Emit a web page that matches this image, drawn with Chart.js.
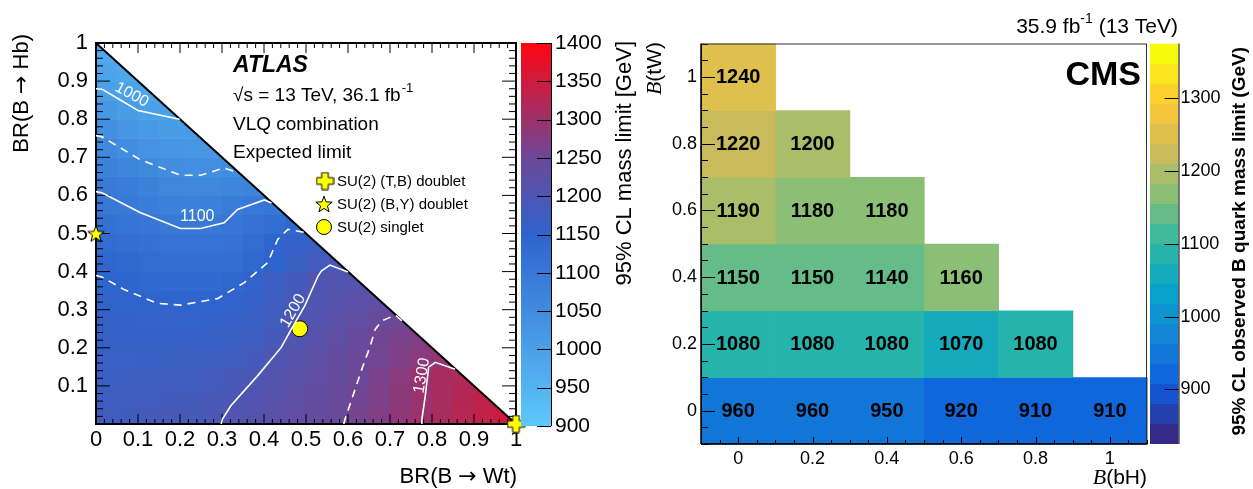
<!DOCTYPE html>
<html>
<head>
<meta charset="utf-8">
<title>B quark mass limits</title>
<script src="https://cdn.jsdelivr.net/npm/chart.js@4.4.1/dist/chart.umd.min.js"></script>
<style>
  html, body { margin: 0; padding: 0; background: #fff; }
  #wrap { position: relative; width: 1253px; height: 489px; overflow: hidden; }
  #wrap canvas { position: absolute; left: 0; top: 0; }
</style>
</head>
<body>
<div id="wrap">
  <canvas id="atlas" width="1253" height="489"></canvas>
  <canvas id="atlasBar" width="1253" height="489"></canvas>
  <canvas id="cms" width="1253" height="489"></canvas>
  <canvas id="cmsBar" width="1253" height="489"></canvas>
</div>
<script>
// ATLAS expected limit [GeV], one array per BR(B->Hb) row of 0.05 wide cells, BR(B->Wt) from 0 upwards
const atlasStep = 0.05;
const hb00 = [1179,1181,1184,1188,1191,1195,1203,1212,1220,1229,1238,1246,1258,1272,1286,1299,1312,1325,1338,1350];
const hb05 = [1175,1176,1179,1181,1185,1188,1195,1206,1215,1225,1234,1243,1254,1268,1283,1297,1311,1323,1334];
const hb10 = [1170,1172,1174,1176,1179,1183,1188,1197,1209,1219,1229,1239,1250,1265,1280,1296,1310,1320];
const hb15 = [1166,1166,1167,1168,1170,1172,1176,1184,1201,1212,1223,1235,1246,1257,1269,1280,1290];
const hb20 = [1163,1162,1161,1162,1163,1165,1169,1175,1188,1205,1218,1230,1242,1254,1264,1272];
const hb25 = [1159,1157,1155,1155,1155,1157,1161,1167,1178,1198,1211,1222,1233,1245,1251];
const hb30 = [1155,1153,1151,1149,1148,1149,1154,1162,1174,1190,1204,1213,1221,1228];
const hb35 = [1150,1145,1139,1135,1134,1136,1142,1155,1170,1185,1200,1206,1210];
const hb40 = [1143,1137,1130,1125,1122,1122,1126,1137,1152,1168,1183,1194];
const hb45 = [1131,1125,1118,1112,1109,1109,1114,1130,1149,1160,1168];
const hb50 = [1118,1112,1105,1099,1097,1098,1104,1115,1128,1143];
const hb55 = [1103,1098,1088,1080,1078,1080,1088,1100,1106];
const hb60 = [1095,1087,1075,1064,1060,1061,1066,1072];
const hb65 = [1076,1068,1056,1047,1045,1046,1047];
const hb70 = [1060,1048,1036,1028,1025,1026];
const hb75 = [1041,1028,1018,1011,1008];
const hb80 = [1021,1010,1001,998];
const hb85 = [1003,994,989];
const hb90 = [989,983];
const hb95 = [977];
const atlasRows = [hb00, hb05, hb10, hb15, hb20, hb25, hb30, hb35, hb40, hb45,
                   hb50, hb55, hb60, hb65, hb70, hb75, hb80, hb85, hb90, hb95];

// contour lines [BR(Wt), BR(Hb)]
const contour1000 = [[0,0.88],[0.014,0.879],[0.10,0.823],[0.199,0.8]];
const contour1050 = [[0,0.757],[0.014,0.754],[0.105,0.694],[0.201,0.653],[0.249,0.653],[0.305,0.672],[0.34,0.659]];
const contour1100 = [[0,0.61],[0.014,0.607],[0.105,0.555],[0.201,0.513],[0.249,0.513],[0.305,0.528],[0.337,0.563],[0.401,0.588],[0.418,0.58]];
const contour1150 = [[0,0.39],[0.014,0.386],[0.065,0.354],[0.145,0.317],[0.201,0.312],[0.289,0.329],[0.353,0.371],[0.409,0.424],[0.433,0.485],[0.457,0.511],[0.496,0.503]];
const contour1200 = [[0.298,0],[0.301,0.013],[0.321,0.048],[0.385,0.127],[0.441,0.201],[0.465,0.249],[0.497,0.31],[0.529,0.389],[0.537,0.402],[0.557,0.417],[0.6,0.399]];
const contour1250 = [[0.59,0],[0.593,0.013],[0.609,0.065],[0.633,0.144],[0.653,0.205],[0.665,0.249],[0.681,0.271],[0.713,0.286],[0.736,0.263]];
const contour1300 = [[0.775,0],[0.776,0.013],[0.784,0.074],[0.792,0.149],[0.808,0.162],[0.855,0.144]];
// label text, position, angle
const contourTags = [['1000',0.085,0.864,0.49],['1100',0.241,0.545,0],['1200',0.469,0.297,-1.05],['1300',0.776,0.127,-1.4]];

// benchmark points
const tbDoublet = [1, 0];
const byDoublet = [0, 0.5];
const singlet = [0.485, 0.25];

const atlasWtTicks = [0,0.1,0.2,0.3,0.4,0.5,0.6,0.7,0.8,0.9,1];
const atlasHbTicks = [0.1,0.2,0.3,0.4,0.5,0.6,0.7,0.8,0.9,1];
const atlasBarTicks = [900,950,1000,1050,1100,1150,1200,1250,1300,1350,1400];

// CMS observed limit [GeV], one array per B(tW) row, B(bH) from 0 upwards
const cmsBH = [0,0.2,0.4,0.6,0.8,1];
const cmsTW = [0,0.2,0.4,0.6,0.8,1];
const cmsTW00 = [960,960,950,920,910,910];
const cmsTW02 = [1080,1080,1080,1070,1080];
const cmsTW04 = [1150,1150,1140,1160];
const cmsTW06 = [1190,1180,1180];
const cmsTW08 = [1220,1200];
const cmsTW10 = [1240];
const cmsRows = [cmsTW00, cmsTW02, cmsTW04, cmsTW06, cmsTW08, cmsTW10];
const cmsBarTicks = [900,1000,1100,1200,1300];
const cmsMin = 825, cmsMax = 1375, cmsBands = 20;

// STYLE
const FONT = "'Liberation Sans', Arial, Helvetica, sans-serif";
const SERIF = "'Liberation Serif', 'Times New Roman', serif";
const ARROW = "'DejaVu Sans', sans-serif";
Chart.defaults.font.family = FONT;
Chart.defaults.color = '#000';

const atlasStops = [[900,[94,200,250]],[1150,[46,100,205]],[1250,[108,72,152]],[1400,[255,5,15]]];
const birdStops = [[0,[53,42,135]],[0.125,[15,92,221]],[0.25,[20,129,214]],[0.375,[6,164,202]],
                   [0.5,[46,183,164]],[0.625,[135,191,119]],[0.75,[209,187,89]],[0.875,[254,200,50]],[1,[249,251,14]]];

function lerpStops(stops, v) {
  if (v <= stops[0][0]) return stops[0][1];
  for (let k = 1; k < stops.length; k++) {
    if (v <= stops[k][0]) {
      const [p0, c0] = stops[k - 1], [p1, c1] = stops[k];
      const t = (v - p0) / (p1 - p0);
      return c0.map((c, n) => Math.round(c + (c1[n] - c) * t));
    }
  }
  return stops[stops.length - 1][1];
}
const rgb = c => `rgb(${c[0]},${c[1]},${c[2]})`;
const atlasColor = v => rgb(lerpStops(atlasStops, v));
function cmsBand(v) {
  const k = Math.floor((v - cmsMin) / (cmsMax - cmsMin) * cmsBands);
  return Math.max(0, Math.min(cmsBands - 1, k));
}
const cmsColor = v => rgb(lerpStops(birdStops, cmsBand(v) / (cmsBands - 1)));
const fmtTick = v => String(Math.round(v * 100) / 100);

function text(ctx, s, x, y, font, align, base) {
  ctx.font = font;
  ctx.textAlign = align || 'left';
  ctx.textBaseline = base || 'alphabetic';
  ctx.fillText(s, x, y);
}
// several font runs on one line, anchored left or right, vertically centred
function runs(ctx, parts, x, y, anchor) {
  let total = 0;
  const widths = parts.map(([s, f]) => { ctx.font = f; const w = ctx.measureText(s).width; total += w; return w; });
  let cx = anchor === 'right' ? x - total : x;
  parts.forEach(([s, f], k) => { text(ctx, s, cx, y, f, 'left', 'middle'); cx += widths[k]; });
}
function vruns(ctx, parts, x, yTop) {
  ctx.save();
  ctx.translate(x, yTop);
  ctx.rotate(-Math.PI / 2);
  runs(ctx, parts, 0, 0, 'right');
  ctx.restore();
}

// yellow markers
function makeMarker(kind) {
  const size = kind === 'plus' ? 19 : 20;
  const c = document.createElement('canvas');
  c.width = c.height = size;
  const g = c.getContext('2d');
  const m = size / 2;
  g.beginPath();
  if (kind === 'plus') {
    const a = 3.3, e = 8.5;
    g.moveTo(m - a, m - e); g.lineTo(m + a, m - e); g.lineTo(m + a, m - a); g.lineTo(m + e, m - a);
    g.lineTo(m + e, m + a); g.lineTo(m + a, m + a); g.lineTo(m + a, m + e); g.lineTo(m - a, m + e);
    g.lineTo(m - a, m + a); g.lineTo(m - e, m + a); g.lineTo(m - e, m - a); g.lineTo(m - a, m - a);
  } else {
    for (let k = 0; k < 10; k++) {
      const r = k % 2 ? 3.6 : 8.6;
      const ang = -Math.PI / 2 + k * Math.PI / 5;
      const px = m + r * Math.cos(ang), py = m + 0.8 + r * Math.sin(ang);
      if (k) g.lineTo(px, py); else g.moveTo(px, py);
    }
  }
  g.closePath();
  g.fillStyle = '#ffff00';
  g.fill();
  g.strokeStyle = '#000';
  g.lineWidth = 1;
  g.stroke();
  return c;
}
const plusImg = makeMarker('plus');
const starImg = makeMarker('star');

// ATLAS PANEL
function contourSet(points, dashed) {
  return {
    data: points.map(p => ({ x: p[0], y: p[1] })),
    showLine: true, pointRadius: 0, borderColor: '#ffffff', borderWidth: 1.6,
    borderDash: dashed ? [8, 6] : [], tension: 0
  };
}

const atlasBackdrop = {
  id: 'atlasBackdrop',
  beforeDatasetsDraw(chart) {
    const { ctx, chartArea: a, scales: { x, y } } = chart;
    ctx.save();
    ctx.beginPath();
    ctx.moveTo(x.getPixelForValue(0), y.getPixelForValue(0));
    ctx.lineTo(x.getPixelForValue(1), y.getPixelForValue(0));
    ctx.lineTo(x.getPixelForValue(0), y.getPixelForValue(1));
    ctx.closePath();
    ctx.clip();
    atlasRows.forEach((row, j) => {
      const yb = y.getPixelForValue(j * atlasStep), yt = y.getPixelForValue((j + 1) * atlasStep);
      row.forEach((v, i) => {
        const xl = x.getPixelForValue(i * atlasStep), xr = x.getPixelForValue((i + 1) * atlasStep);
        ctx.fillStyle = atlasColor(v);
        ctx.fillRect(xl, yt, xr - xl + 0.6, yb - yt + 0.6);
      });
    });
    ctx.restore();

    ctx.save();
    ctx.strokeStyle = '#000';
    ctx.lineWidth = 1;
    ctx.beginPath();
    for (let k = 0; k <= 50; k++) {
      const v = k * 0.02, major = k % 5 === 0;
      const px = x.getPixelForValue(v), py = y.getPixelForValue(v);
      const lh = major ? 10 : 5, lv = major ? 14 : 7;
      ctx.moveTo(px, a.bottom); ctx.lineTo(px, a.bottom - lh);
      ctx.moveTo(px, a.top); ctx.lineTo(px, a.top + lh);
      ctx.moveTo(a.left, py); ctx.lineTo(a.left + lv, py);
      ctx.moveTo(a.right, py); ctx.lineTo(a.right - lv, py);
    }
    ctx.stroke();
    ctx.lineWidth = 2;
    ctx.strokeRect(a.left, a.top, a.right - a.left, a.bottom - a.top);
    ctx.beginPath();
    ctx.moveTo(x.getPixelForValue(0), y.getPixelForValue(1));
    ctx.lineTo(x.getPixelForValue(1), y.getPixelForValue(0));
    ctx.stroke();
    ctx.restore();
  }
};

const atlasOverlay = {
  id: 'atlasOverlay',
  afterDatasetsDraw(chart) {
    const { ctx, scales: { x, y } } = chart;
    ctx.save();
    ctx.fillStyle = '#fff';
    contourTags.forEach(([s, vx, vy, ang]) => {
      ctx.save();
      ctx.translate(x.getPixelForValue(vx), y.getPixelForValue(vy));
      ctx.rotate(ang);
      text(ctx, s, 0, 0, `16px ${FONT}`, 'center', 'middle');
      ctx.restore();
    });
    ctx.fillStyle = '#000';
    text(ctx, 'ATLAS', 233, 72, `italic bold 23px ${FONT}`);
    const f19 = `19px ${FONT}`;
    ctx.font = f19;
    const sq = '\u221As = 13 TeV, 36.1 fb';
    text(ctx, sq, 233, 101, f19);
    const w = ctx.measureText(sq).width;
    text(ctx, '-1', 233 + w + 1, 92, `13px ${FONT}`);
    text(ctx, 'VLQ combination', 233, 130, f19);
    text(ctx, 'Expected limit', 233, 158, f19);

    // legend
    const f15 = `15px ${FONT}`;
    ctx.drawImage(plusImg, 325 - plusImg.width / 2, 181 - plusImg.height / 2);
    text(ctx, 'SU(2) (T,B) doublet', 337, 182, f15, 'left', 'middle');
    ctx.drawImage(starImg, 324 - starImg.width / 2, 204 - starImg.height / 2);
    text(ctx, 'SU(2) (B,Y) doublet', 337, 205, f15, 'left', 'middle');
    ctx.beginPath();
    ctx.arc(324, 227, 7.5, 0, Math.PI * 2);
    ctx.fillStyle = '#ffff00';
    ctx.fill();
    ctx.strokeStyle = '#000';
    ctx.lineWidth = 1;
    ctx.stroke();
    ctx.fillStyle = '#000';
    text(ctx, 'SU(2) singlet', 337, 228, f15, 'left', 'middle');

    // axis titles
    const f22 = `22px ${FONT}`, a22 = `22px ${ARROW}`;
    vruns(ctx, [['BR(B ', f22], ['\u2192', a22], [' Hb)', f22]], 22, 34);
    runs(ctx, [['BR(B ', f22], ['\u2192', a22], [' Wt)', f22]], 517, 477, 'right');
    vruns(ctx, [['95% CL mass limit [GeV]', f22]], 625, 41);
    ctx.restore();
  }
};

new Chart(document.getElementById('atlas'), {
  type: 'scatter',
  data: {
    datasets: [
      contourSet(contour1000, false), contourSet(contour1050, true), contourSet(contour1100, false),
      contourSet(contour1150, true), contourSet(contour1200, false), contourSet(contour1250, true),
      contourSet(contour1300, false),
      { data: [{ x: singlet[0], y: singlet[1] }], pointStyle: 'circle', pointRadius: 8,
        backgroundColor: '#ffff00', borderColor: '#000', borderWidth: 1, clip: false },
      { data: [{ x: byDoublet[0], y: byDoublet[1] }], pointStyle: starImg, clip: false },
      { data: [{ x: tbDoublet[0], y: tbDoublet[1] }], pointStyle: plusImg, clip: false }
    ]
  },
  options: {
    responsive: false, animation: false, events: [],
    layout: { padding: { left: 0, top: 43, right: 737, bottom: 0 } },
    plugins: { legend: { display: false }, tooltip: { enabled: false } },
    scales: {
      x: {
        type: 'linear', min: 0, max: 1,
        afterBuildTicks: s => { s.ticks = atlasWtTicks.map(v => ({ value: v })); },
        afterFit: s => { s.height = 65; },
        grid: { display: false, drawTicks: false }, border: { display: false },
        ticks: { autoSkip: false, maxRotation: 0, padding: 3, font: { size: 22 }, callback: v => fmtTick(v) }
      },
      y: {
        type: 'linear', min: 0, max: 1,
        afterBuildTicks: s => { s.ticks = atlasHbTicks.map(v => ({ value: v })); },
        afterFit: s => { s.width = 96; },
        grid: { display: false, drawTicks: false }, border: { display: false },
        ticks: { autoSkip: false, padding: 8, font: { size: 22 }, callback: v => fmtTick(v) }
      }
    }
  },
  plugins: [atlasBackdrop, atlasOverlay]
});

// COLOUR BARS
function colourBar(id, box, lo, hi, ticks, fillGradient, fontSize, labelPad) {
  const barTicks = {
    id: 'barTicks',
    afterDatasetsDraw(chart) {
      const { ctx, chartArea: a, scales: { y } } = chart;
      ctx.save();
      ctx.strokeStyle = '#000';
      ctx.lineWidth = 1;
      ctx.beginPath();
      ticks.forEach(v => {
        const py = Math.round(y.getPixelForValue(v)) + 0.5;
        ctx.moveTo(a.right, py); ctx.lineTo(a.right - 14, py);
      });
      ctx.moveTo(a.right + 0.5, a.top); ctx.lineTo(a.right + 0.5, a.bottom);
      ctx.stroke();
      ctx.restore();
    }
  };
  return new Chart(document.getElementById(id), {
    type: 'bar',
    data: {
      labels: [''],
      datasets: [{
        data: [[lo, hi]], borderWidth: 0, barPercentage: 1, categoryPercentage: 1,
        backgroundColor: c => {
          const ch = c.chart, ys = ch.scales.y;
          if (!ys || !ch.chartArea) return 'transparent';
          const g = ch.ctx.createLinearGradient(0, ys.getPixelForValue(lo), 0, ys.getPixelForValue(hi));
          fillGradient(g);
          return g;
        }
      }]
    },
    options: {
      responsive: false, animation: false, events: [],
      layout: { padding: { left: box.left, top: box.top, right: 1253 - box.right - box.axis, bottom: 489 - box.bottom } },
      plugins: { legend: { display: false }, tooltip: { enabled: false } },
      scales: {
        x: { display: false },
        y: {
          position: 'right', min: lo, max: hi,
          afterBuildTicks: s => { s.ticks = ticks.map(v => ({ value: v })); },
          afterFit: s => { s.width = box.axis; },
          grid: { display: false, drawTicks: false }, border: { display: false },
          ticks: { autoSkip: false, padding: labelPad, font: { size: fontSize }, callback: v => String(v) }
        }
      }
    },
    plugins: [barTicks]
  });
}

colourBar('atlasBar', { left: 521, right: 551, top: 43, bottom: 426, axis: 80 }, 900, 1400, atlasBarTicks,
  g => atlasStops.forEach(([v, c]) => g.addColorStop((v - 900) / 500, rgb(c))), 21, 4);

colourBar('cmsBar', { left: 1150, right: 1178.5, top: 43.5, bottom: 444, axis: 60 }, cmsMin, cmsMax, cmsBarTicks,
  g => {
    for (let k = 0; k < cmsBands; k++) {
      const col = rgb(lerpStops(birdStops, k / (cmsBands - 1)));
      g.addColorStop(k / cmsBands, col);
      g.addColorStop((k + 1) / cmsBands, col);
    }
  }, 18, 2);

// CMS PANEL
const cmsHalf = 0.1;
const cmsBackdrop = {
  id: 'cmsBackdrop',
  beforeDatasetsDraw(chart) {
    const { ctx, chartArea: a, scales: { x, y } } = chart;
    ctx.save();
    cmsRows.forEach((row, j) => {
      const yt = y.getPixelForValue(cmsTW[j] + cmsHalf), yb = y.getPixelForValue(cmsTW[j] - cmsHalf);
      row.forEach((v, i) => {
        const xl = x.getPixelForValue(cmsBH[i] - cmsHalf), xr = x.getPixelForValue(cmsBH[i] + cmsHalf);
        ctx.fillStyle = cmsColor(v);
        ctx.fillRect(xl, yt, xr - xl + 0.6, yb - yt + 0.6);
      });
    });
    ctx.strokeStyle = '#000';
    ctx.lineWidth = 1;
    ctx.beginPath();
    for (let k = -2; k <= 22; k++) {
      const v = k * 0.05, major = k % 4 === 0;
      const px = Math.round(x.getPixelForValue(v)) + 0.5, py = Math.round(y.getPixelForValue(v)) + 0.5;
      ctx.moveTo(px, a.bottom); ctx.lineTo(px, a.bottom - (major ? 7 : 4));
      ctx.moveTo(a.left, py); ctx.lineTo(a.left + (major ? 14 : 7), py);
    }
    ctx.stroke();
    ctx.strokeStyle = '#333';
    ctx.strokeRect(a.left + 0.5, a.top + 0.5, a.right - a.left - 1, a.bottom - a.top - 1);
    ctx.strokeStyle = '#000';
    ctx.lineWidth = 1.5;
    ctx.beginPath();
    ctx.moveTo(a.left, a.bottom); ctx.lineTo(a.right, a.bottom);
    ctx.moveTo(a.left, a.top); ctx.lineTo(a.left, a.bottom);
    ctx.stroke();
    ctx.restore();
  },
  afterDatasetsDraw(chart) {
    const { ctx, scales: { x, y } } = chart;
    ctx.save();
    ctx.fillStyle = '#000';
    cmsRows.forEach((row, j) => {
      row.forEach((v, i) => {
        text(ctx, String(v), x.getPixelForValue(cmsBH[i]), y.getPixelForValue(cmsTW[j]) + 1,
          `bold 20px ${FONT}`, 'center', 'middle');
      });
    });
    text(ctx, 'CMS', 1141, 85, `bold 34px ${FONT}`, 'right');

    // lumi label
    const f21 = `21px ${FONT}`, f14 = `14px ${FONT}`;
    ctx.font = f21;
    const w1 = ctx.measureText('35.9 fb').width, w3 = ctx.measureText(' (13 TeV)').width;
    ctx.font = f14;
    const w2 = ctx.measureText('-1').width;
    const x0 = 1178 - (w1 + w2 + w3);
    text(ctx, '35.9 fb', x0, 33, f21);
    text(ctx, '-1', x0 + w1, 23, f14);
    text(ctx, ' (13 TeV)', x0 + w1 + w2, 33, f21);

    // axis titles with italic B
    const fi = `italic 22px ${SERIF}`, fs = `21px ${FONT}`;
    vruns(ctx, [['B', fi], ['(tW)', fs]], 655, 42);
    runs(ctx, [['B', fi], ['(bH)', fs]], 1147, 478, 'right');
    vruns(ctx, [['95% CL observed B quark mass limit (GeV)', `bold 19px ${FONT}`]], 1240, 47);
    ctx.restore();
  }
};

new Chart(document.getElementById('cms'), {
  type: 'scatter',
  data: { datasets: [{ data: [] }] },
  options: {
    responsive: false, animation: false, events: [],
    layout: { padding: { left: 640, top: 43.5, right: 106, bottom: 0 } },
    plugins: { legend: { display: false }, tooltip: { enabled: false } },
    scales: {
      x: {
        type: 'linear', min: -0.1, max: 1.1,
        afterBuildTicks: s => { s.ticks = cmsBH.map(v => ({ value: v })); },
        afterFit: s => { s.height = 45; },
        grid: { display: false, drawTicks: false }, border: { display: false },
        ticks: { autoSkip: false, maxRotation: 0, padding: 4, font: { size: 18 }, callback: v => fmtTick(v) }
      },
      y: {
        type: 'linear', min: -0.1, max: 1.1,
        afterBuildTicks: s => { s.ticks = cmsTW.map(v => ({ value: v })); },
        afterFit: s => { s.width = 61; },
        grid: { display: false, drawTicks: false }, border: { display: false },
        ticks: { autoSkip: false, padding: 4, font: { size: 18 }, callback: v => fmtTick(v) }
      }
    }
  },
  plugins: [cmsBackdrop]
});
</script>
</body>
</html>
